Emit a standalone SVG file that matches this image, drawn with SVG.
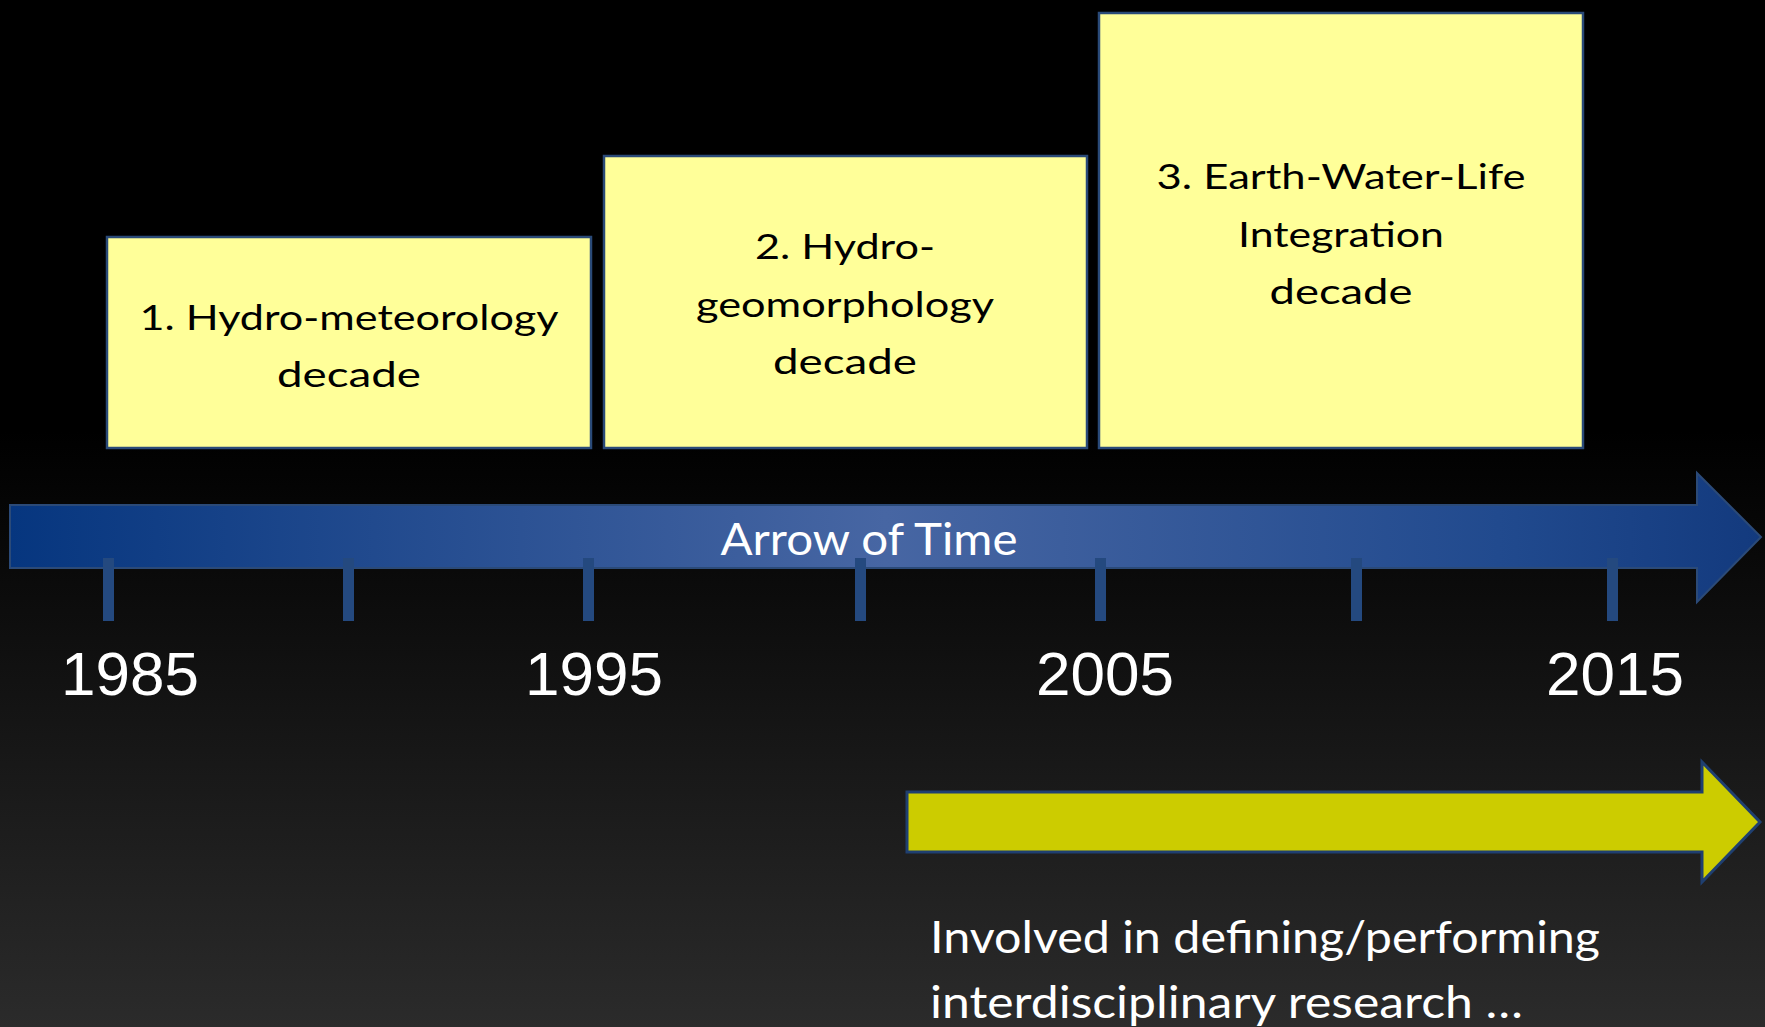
<svg xmlns="http://www.w3.org/2000/svg" width="1765" height="1027" viewBox="0 0 1765 1027">
<defs>
<linearGradient id="bg" x1="0" y1="0" x2="0" y2="1">
<stop offset="0" stop-color="#000000"/>
<stop offset="0.42" stop-color="#000000"/>
<stop offset="1" stop-color="#2b2b2b"/>
</linearGradient>
<linearGradient id="blue" x1="0" y1="0" x2="1" y2="0">
<stop offset="0" stop-color="#06367f"/>
<stop offset="0.5" stop-color="#4766a3"/>
<stop offset="0.85" stop-color="#214a8e"/>
<stop offset="1" stop-color="#133a7e"/>
</linearGradient>
<style>
.box{fill:#ffff99;stroke:#2a4a78;stroke-width:2.5}
.bt{font-family:Lato,"Noto Sans",sans-serif;font-size:35px;fill:#000;text-anchor:middle}
.yr{font-family:"Liberation Sans",Arial,sans-serif;font-size:62px;fill:#fff;text-anchor:middle}
.wt{font-family:Lato,"Noto Sans",sans-serif;font-size:44px;fill:#fff}
.tick{fill:#24497f}
</style>
</defs>
<rect x="0" y="0" width="1765" height="1027" fill="url(#bg)"/>
<g id="connectors">
<path id="time-arrow" d="M10,505 H1697 V473 L1761,537 L1697,602 V568 H10 Z" fill="url(#blue)" stroke="#2b4a78" stroke-width="2"/>
<text class="wt" x="869" y="555" text-anchor="middle" textLength="297" lengthAdjust="spacingAndGlyphs">Arrow of Time</text>
<g id="ticks">
<rect class="tick" x="103" y="558" width="11" height="63"/>
<rect class="tick" x="343" y="558" width="11" height="63"/>
<rect class="tick" x="583" y="558" width="11" height="63"/>
<rect class="tick" x="855" y="558" width="11" height="63"/>
<rect class="tick" x="1095" y="558" width="11" height="63"/>
<rect class="tick" x="1351" y="558" width="11" height="63"/>
<rect class="tick" x="1607" y="558" width="11" height="63"/>
</g>
<path id="yellow-arrow" d="M907,792 H1702 V762 L1760,822 L1702,882 V852 H907 Z" fill="#cccc00" stroke="#1f3f70" stroke-width="3"/>
</g>
<g id="years">
<text class="yr" x="130" y="695">1985</text>
<text class="yr" x="594" y="695">1995</text>
<text class="yr" x="1105" y="695">2005</text>
<text class="yr" x="1615" y="695">2015</text>
</g>
<g id="node1">
<rect class="box" x="107" y="237" width="484" height="211"/>
<text class="bt" x="349" y="330" textLength="419" lengthAdjust="spacingAndGlyphs">1. Hydro-meteorology</text>
<text class="bt" x="349" y="387" textLength="144" lengthAdjust="spacingAndGlyphs">decade</text>
</g>
<g id="node2">
<rect class="box" x="604" y="156" width="483" height="292"/>
<text class="bt" x="845" y="259" textLength="180" lengthAdjust="spacingAndGlyphs">2. Hydro-</text>
<text class="bt" x="845" y="317" textLength="298" lengthAdjust="spacingAndGlyphs">geomorphology</text>
<text class="bt" x="845" y="374" textLength="144" lengthAdjust="spacingAndGlyphs">decade</text>
</g>
<g id="node3">
<rect class="box" x="1099" y="13" width="484" height="435"/>
<text class="bt" x="1341" y="189" textLength="369" lengthAdjust="spacingAndGlyphs">3. Earth-Water-Life</text>
<text class="bt" x="1341" y="247" textLength="206" lengthAdjust="spacingAndGlyphs">Integration</text>
<text class="bt" x="1341" y="304" textLength="143" lengthAdjust="spacingAndGlyphs">decade</text>
</g>
<g id="note">
<text class="wt" x="930" y="953" textLength="670" lengthAdjust="spacingAndGlyphs">Involved in defining/performing</text>
<text class="wt" x="930" y="1018" textLength="593" lengthAdjust="spacingAndGlyphs">interdisciplinary research …</text>
</g>
</svg>
